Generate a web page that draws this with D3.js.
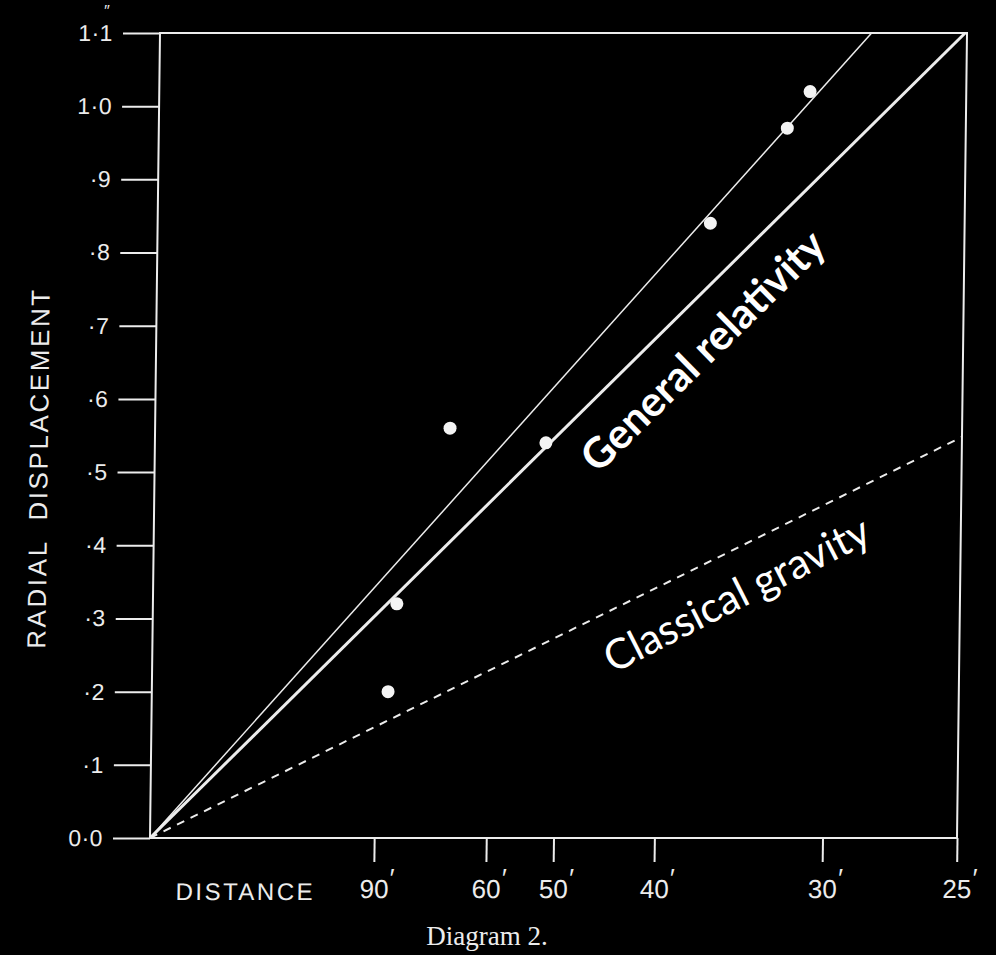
<!DOCTYPE html>
<html>
<head>
<meta charset="utf-8">
<script src="https://cdn.jsdelivr.net/npm/d3@7"></script>
<style>
  html, body { margin: 0; background: #000; }
  svg { display: block; }
</style>
</head>
<body>
<svg id="chart" width="996" height="955"></svg>
<script>
// Star measurements: distance from the sun's centre (arcmin) and radial displacement (arcsec)
const starDistance = [31.0, 32.1, 36.5, 51.6, 68.4, 82.7, 85.4];
const radialDisplacement = [1.02, 0.97, 0.84, 0.54, 0.56, 0.32, 0.20];

// Axis ticks
const distanceTicks = [90, 60, 50, 40, 30, 25];
const displacementTicks = [0, 0.1, 0.2, 0.3, 0.4, 0.5, 0.6, 0.7, 0.8, 0.9, 1.0, 1.1];
const displacementTickLabels = ["0·0", "·1", "·2", "·3", "·4", "·5", "·6", "·7", "·8", "·9", "1·0", "1·1"];

// Deflection lines: displacement = limb deflection × solar radius / distance
const lineNames = ["Observed fit", "General relativity", "Classical gravity"];
const limbDeflection = [1.98, 1.75, 0.87];   // arcsec at the limb
const lineWidths = [1.5, 3, 2];
const lineDash = [null, null, "8,7"];
const solarRadius = 15.75;                    // arcmin

const ink = "#ececec";
const plateFont = "Liberation Sans, Arial, sans-serif";
const svg = d3.select("#chart");

// Horizontal axis is linear in 1/distance
const x = d3.scaleLinear().domain([0, 1 / 25]).range([150, 957]);
const y = d3.scaleLinear().domain([0, 1.1]).range([838, 33]);

// The printed plate is slightly sheared; keep the bottom edge fixed
const g = svg.append("g")
  .attr("transform", "translate(0,838) skewX(-0.712) translate(0,-838)");

// Frame
g.append("rect")
  .attr("x", x(0)).attr("y", y(1.1))
  .attr("width", x(1 / 25) - x(0)).attr("height", y(0) - y(1.1))
  .attr("fill", "none").attr("stroke", ink).attr("stroke-width", 2);

// Left axis
const yAxis = g.append("g")
  .attr("transform", `translate(${x(0)},0)`)
  .call(d3.axisLeft(y).tickValues(displacementTicks).tickSize(37).tickPadding(10)
    .tickFormat((d, i) => displacementTickLabels[i]));
yAxis.select(".domain").remove();
yAxis.selectAll(".tick line").attr("stroke", ink).attr("stroke-width", 2);
yAxis.selectAll(".tick text")
  .attr("fill", ink).attr("font-family", plateFont)
  .attr("font-size", 23).attr("letter-spacing", 0.5);

// Seconds-of-arc mark above the top label
g.append("text")
  .attr("x", 96).attr("y", 16)
  .attr("text-anchor", "middle")
  .attr("fill", ink).attr("font-family", plateFont)
  .attr("font-size", 16).attr("font-style", "italic")
  .text("″");

// Bottom axis
const xAxis = g.append("g")
  .attr("transform", `translate(0,${y(0)})`)
  .call(d3.axisBottom(x).tickValues(distanceTicks.map(d => 1 / d)).tickSize(24).tickPadding(18)
    .tickFormat(v => String(Math.round(1 / v))));
xAxis.select(".domain").remove();
xAxis.selectAll(".tick line").attr("stroke", ink).attr("stroke-width", 2);
xAxis.selectAll(".tick text")
  .attr("fill", ink).attr("font-family", plateFont)
  .attr("font-size", 26);
xAxis.selectAll(".tick").append("text")
  .attr("x", 18).attr("y", 49)
  .attr("fill", ink).attr("font-family", plateFont)
  .attr("font-size", 26)
  .text("′");

// Axis titles
g.append("text")
  .attr("x", 246).attr("y", 900)
  .attr("text-anchor", "middle")
  .attr("fill", ink).attr("font-family", plateFont)
  .attr("font-size", 24).attr("letter-spacing", 2.5)
  .text("DISTANCE");

g.append("text")
  .attr("transform", "translate(43,468) rotate(-90)")
  .attr("text-anchor", "middle")
  .attr("fill", ink).attr("font-family", plateFont)
  .attr("font-size", 26).attr("letter-spacing", 2.6)
  .attr("xml:space", "preserve")
  .text("RADIAL  DISPLACEMENT");

// Deflection lines from the origin to the frame edge
const line = d3.line().x(d => x(d[0])).y(d => y(d[1]));
lineNames.forEach((name, i) => {
  const k = limbDeflection[i] * solarRadius;
  const end = Math.min(1 / 25, 1.1 / k);
  g.append("path")
    .attr("d", line([[0, 0], [end, k * end]]))
    .attr("fill", "none").attr("stroke", ink)
    .attr("stroke-width", lineWidths[i])
    .attr("stroke-dasharray", lineDash[i]);
});

// Measured stars
g.selectAll("circle.star")
  .data(starDistance.map((d, i) => [1 / d, radialDisplacement[i]]))
  .join("circle")
  .attr("class", "star")
  .attr("cx", d => x(d[0])).attr("cy", d => y(d[1]))
  .attr("r", 6.5)
  .attr("fill", "#f4f4f4");

// Caption
svg.append("text")
  .attr("x", 487).attr("y", 945)
  .attr("text-anchor", "middle")
  .attr("fill", ink).attr("font-family", "Liberation Serif, Times New Roman, serif")
  .attr("font-size", 27)
  .text("Diagram 2.");

// Line annotations
svg.append("text")
  .attr("transform", "translate(702,350) rotate(-44.5)")
  .attr("text-anchor", "middle").attr("dominant-baseline", "central")
  .attr("fill", "#fff").attr("font-family", "Lato, sans-serif")
  .attr("font-size", 42).attr("font-weight", "bold")
  .text(lineNames[1]);

svg.append("text")
  .attr("transform", "translate(736,593) rotate(-27)")
  .attr("text-anchor", "middle").attr("dominant-baseline", "central")
  .attr("fill", "#fff").attr("font-family", "Lato, sans-serif")
  .attr("font-size", 42)
  .text(lineNames[2]);
</script>
</body>
</html>
